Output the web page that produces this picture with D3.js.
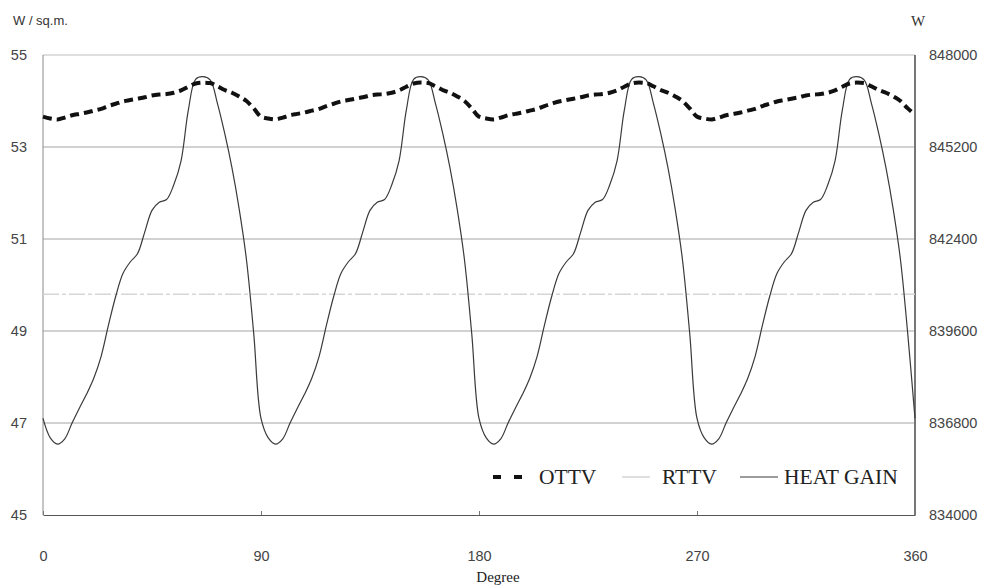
<!DOCTYPE html>
<html>
<head>
<meta charset="utf-8">
<script src="https://cdn.jsdelivr.net/npm/d3@7/dist/d3.min.js"></script>
<style>
  body { margin: 0; background: #fff; }
  svg { display: block; }
</style>
</head>
<body>
<div id="chart"></div>
<script>
// degree steps along the x axis
const degrees = [
  0, 3, 6, 9, 12, 15, 18, 21, 24, 27, 30, 33, 36, 39, 42, 45, 48, 51, 54, 57, 60, 63, 66, 69, 72, 75, 78, 81, 84, 87,
  90, 93, 96, 99, 102, 105, 108, 111, 114, 117, 120, 123, 126, 129, 132, 135, 138, 141, 144, 147, 150, 153, 156, 159, 162, 165, 168, 171, 174, 177,
  180, 183, 186, 189, 192, 195, 198, 201, 204, 207, 210, 213, 216, 219, 222, 225, 228, 231, 234, 237, 240, 243, 246, 249, 252, 255, 258, 261, 264, 267,
  270, 273, 276, 279, 282, 285, 288, 291, 294, 297, 300, 303, 306, 309, 312, 315, 318, 321, 324, 327, 330, 333, 336, 339, 342, 345, 348, 351, 354, 357,
  360
];

// OTTV in W / sq.m. (left axis)
const ottv = [
  53.66, 53.62, 53.60, 53.64, 53.69, 53.72, 53.75, 53.79, 53.83, 53.89, 53.94, 53.99, 54.02, 54.05, 54.08, 54.12, 54.14, 54.15, 54.18, 54.23, 54.31, 54.38, 54.40, 54.39, 54.32, 54.24, 54.18, 54.10, 54.00, 53.84,
  53.66, 53.62, 53.60, 53.64, 53.69, 53.72, 53.75, 53.79, 53.83, 53.89, 53.94, 53.99, 54.02, 54.05, 54.08, 54.12, 54.14, 54.15, 54.18, 54.23, 54.31, 54.38, 54.40, 54.39, 54.32, 54.24, 54.18, 54.10, 54.00, 53.84,
  53.66, 53.62, 53.60, 53.64, 53.69, 53.72, 53.75, 53.79, 53.83, 53.89, 53.94, 53.99, 54.02, 54.05, 54.08, 54.12, 54.14, 54.15, 54.18, 54.23, 54.31, 54.38, 54.40, 54.39, 54.32, 54.24, 54.18, 54.10, 54.00, 53.84,
  53.66, 53.62, 53.60, 53.64, 53.69, 53.72, 53.75, 53.79, 53.83, 53.89, 53.94, 53.99, 54.02, 54.05, 54.08, 54.12, 54.14, 54.15, 54.18, 54.23, 54.31, 54.38, 54.40, 54.39, 54.32, 54.24, 54.18, 54.10, 54.00, 53.84,
  53.70
];

// RTTV in W / sq.m. (flat line)
const rttvDegrees = [0, 360];
const rttv = [49.8, 49.8];

// heat gain in W (right axis)
const heatGain = [
  836940, 836350, 836160, 836320, 836800, 837250, 837680, 838170, 838830, 839770, 840650, 841350, 841700, 841950, 842610, 843270, 843520, 843600, 844050, 844780, 846320, 847260, 847340, 847240, 846530, 845620, 844570, 843310, 841770, 839520,
  836940, 836350, 836160, 836320, 836800, 837250, 837680, 838170, 838830, 839770, 840650, 841350, 841700, 841950, 842610, 843270, 843520, 843600, 844050, 844780, 846320, 847260, 847340, 847240, 846530, 845620, 844570, 843310, 841770, 839520,
  836940, 836350, 836160, 836320, 836800, 837250, 837680, 838170, 838830, 839770, 840650, 841350, 841700, 841950, 842610, 843270, 843520, 843600, 844050, 844780, 846320, 847260, 847340, 847240, 846530, 845620, 844570, 843310, 841770, 839520,
  836940, 836350, 836160, 836320, 836800, 837250, 837680, 838170, 838830, 839770, 840650, 841350, 841700, 841950, 842610, 843270, 843520, 843600, 844050, 844780, 846320, 847260, 847340, 847240, 846530, 845620, 844570, 843310, 841770, 839520,
  836940
];

const xTicks = [0, 90, 180, 270, 360];
const leftTicks = [45, 47, 49, 51, 53, 55];
const rightTicks = [834000, 836800, 839600, 842400, 845200, 848000];
const legendLabels = ["OTTV", "RTTV", "HEAT GAIN"];

// layout
const width = 985, height = 588;
const plot = { left: 43, right: 915, top: 55, bottom: 515 };

const svg = d3.select("#chart").append("svg")
  .attr("width", width)
  .attr("height", height);

const x = d3.scaleLinear().domain([0, 360]).range([plot.left, plot.right]);
const yL = d3.scaleLinear().domain([45, 55]).range([plot.bottom, plot.top]);
const yR = d3.scaleLinear().domain([834000, 848000]).range([plot.bottom, plot.top]);

// horizontal grid lines
svg.append("g")
  .selectAll("line")
  .data(leftTicks.filter(d => d > 45 && d < 55))
  .enter()
  .append("line")
  .attr("x1", plot.left)
  .attr("x2", plot.right)
  .attr("y1", d => yL(d))
  .attr("y2", d => yL(d))
  .attr("stroke", "#a4a4a4")
  .attr("stroke-width", 1);

// frame: top, left, right
svg.append("line")
  .attr("x1", plot.left).attr("x2", plot.right)
  .attr("y1", plot.top).attr("y2", plot.top)
  .attr("stroke", "#bdbdbd");
svg.append("line")
  .attr("x1", plot.left).attr("x2", plot.left)
  .attr("y1", plot.top).attr("y2", plot.bottom)
  .attr("stroke", "#8a8a8a");
svg.append("line")
  .attr("x1", plot.right).attr("x2", plot.right)
  .attr("y1", plot.top).attr("y2", plot.bottom)
  .attr("stroke", "#777")
  .attr("stroke-width", 2);

// axes
const tickFont = "'Liberation Sans', Arial, sans-serif";
const serif = "'Liberation Serif', 'Times New Roman', serif";

const gx = svg.append("g")
  .attr("transform", `translate(0,${plot.bottom})`)
  .call(d3.axisBottom(x).tickValues(xTicks).tickSizeInner(-4).tickSizeOuter(0).tickPadding(36));
gx.select(".domain").attr("stroke", "#555");
gx.selectAll(".tick line").attr("stroke", "#777");

const gl = svg.append("g")
  .attr("transform", `translate(${plot.left},0)`)
  .call(d3.axisLeft(yL).tickValues(leftTicks).tickSize(0).tickPadding(16));
gl.select(".domain").remove();

const gr = svg.append("g")
  .attr("transform", `translate(${plot.right},0)`)
  .call(d3.axisRight(yR).tickValues(rightTicks).tickSize(0).tickPadding(14).tickFormat(d3.format("d")));
gr.select(".domain").remove();

svg.selectAll(".tick text")
  .attr("font-family", tickFont)
  .attr("font-size", 14.5)
  .attr("fill", "#444");

// lines
const lineL = d3.line()
  .x(d => x(d[0]))
  .y(d => yL(d[1]))
  .curve(d3.curveMonotoneX);
const lineR = d3.line()
  .x(d => x(d[0]))
  .y(d => yR(d[1]))
  .curve(d3.curveCatmullRom.alpha(0.5));

svg.append("path")
  .datum(rttvDegrees.map((d, i) => [d, rttv[i]]))
  .attr("fill", "none")
  .attr("stroke", "#d6d6d6")
  .attr("stroke-width", 1.4)
  .attr("stroke-dasharray", "16,3,4,3")
  .attr("d", lineL);

svg.append("path")
  .datum(degrees.map((d, i) => [d, heatGain[i]]))
  .attr("fill", "none")
  .attr("stroke", "#3a3a3a")
  .attr("stroke-width", 1.2)
  .attr("d", lineR);

svg.append("path")
  .datum(degrees.map((d, i) => [d, ottv[i]]))
  .attr("fill", "none")
  .attr("stroke", "#111")
  .attr("stroke-width", 4)
  .attr("stroke-dasharray", "9,5")
  .attr("d", lineL);

// unit labels
svg.append("text")
  .attr("x", 13).attr("y", 25)
  .attr("font-family", tickFont)
  .attr("font-size", 13)
  .attr("fill", "#333")
  .text("W / sq.m.");

svg.append("text")
  .attr("x", 918).attr("y", 26)
  .attr("text-anchor", "middle")
  .attr("font-family", serif)
  .attr("font-size", 15)
  .attr("fill", "#333")
  .text("W");

svg.append("text")
  .attr("x", 498).attr("y", 582)
  .attr("text-anchor", "middle")
  .attr("font-family", serif)
  .attr("font-size", 15)
  .attr("fill", "#222")
  .text("Degree");

// legend
const ly = 477;
const legend = svg.append("g").attr("font-family", serif).attr("font-size", 21.5).attr("fill", "#222");

legend.append("line")
  .attr("x1", 493).attr("x2", 523).attr("y1", ly).attr("y2", ly)
  .attr("stroke", "#111").attr("stroke-width", 4).attr("stroke-dasharray", "8,13");
legend.append("text").attr("x", 539).attr("y", ly + 7).text(legendLabels[0]);

legend.append("line")
  .attr("x1", 622).attr("x2", 650).attr("y1", ly).attr("y2", ly)
  .attr("stroke", "#d4d4d4").attr("stroke-width", 1.5);
legend.append("text").attr("x", 662).attr("y", ly + 7).text(legendLabels[1]);

legend.append("line")
  .attr("x1", 740).attr("x2", 778).attr("y1", ly).attr("y2", ly)
  .attr("stroke", "#3a3a3a").attr("stroke-width", 1.2);
legend.append("text").attr("x", 784).attr("y", ly + 7).text(legendLabels[2]);
</script>
</body>
</html>
